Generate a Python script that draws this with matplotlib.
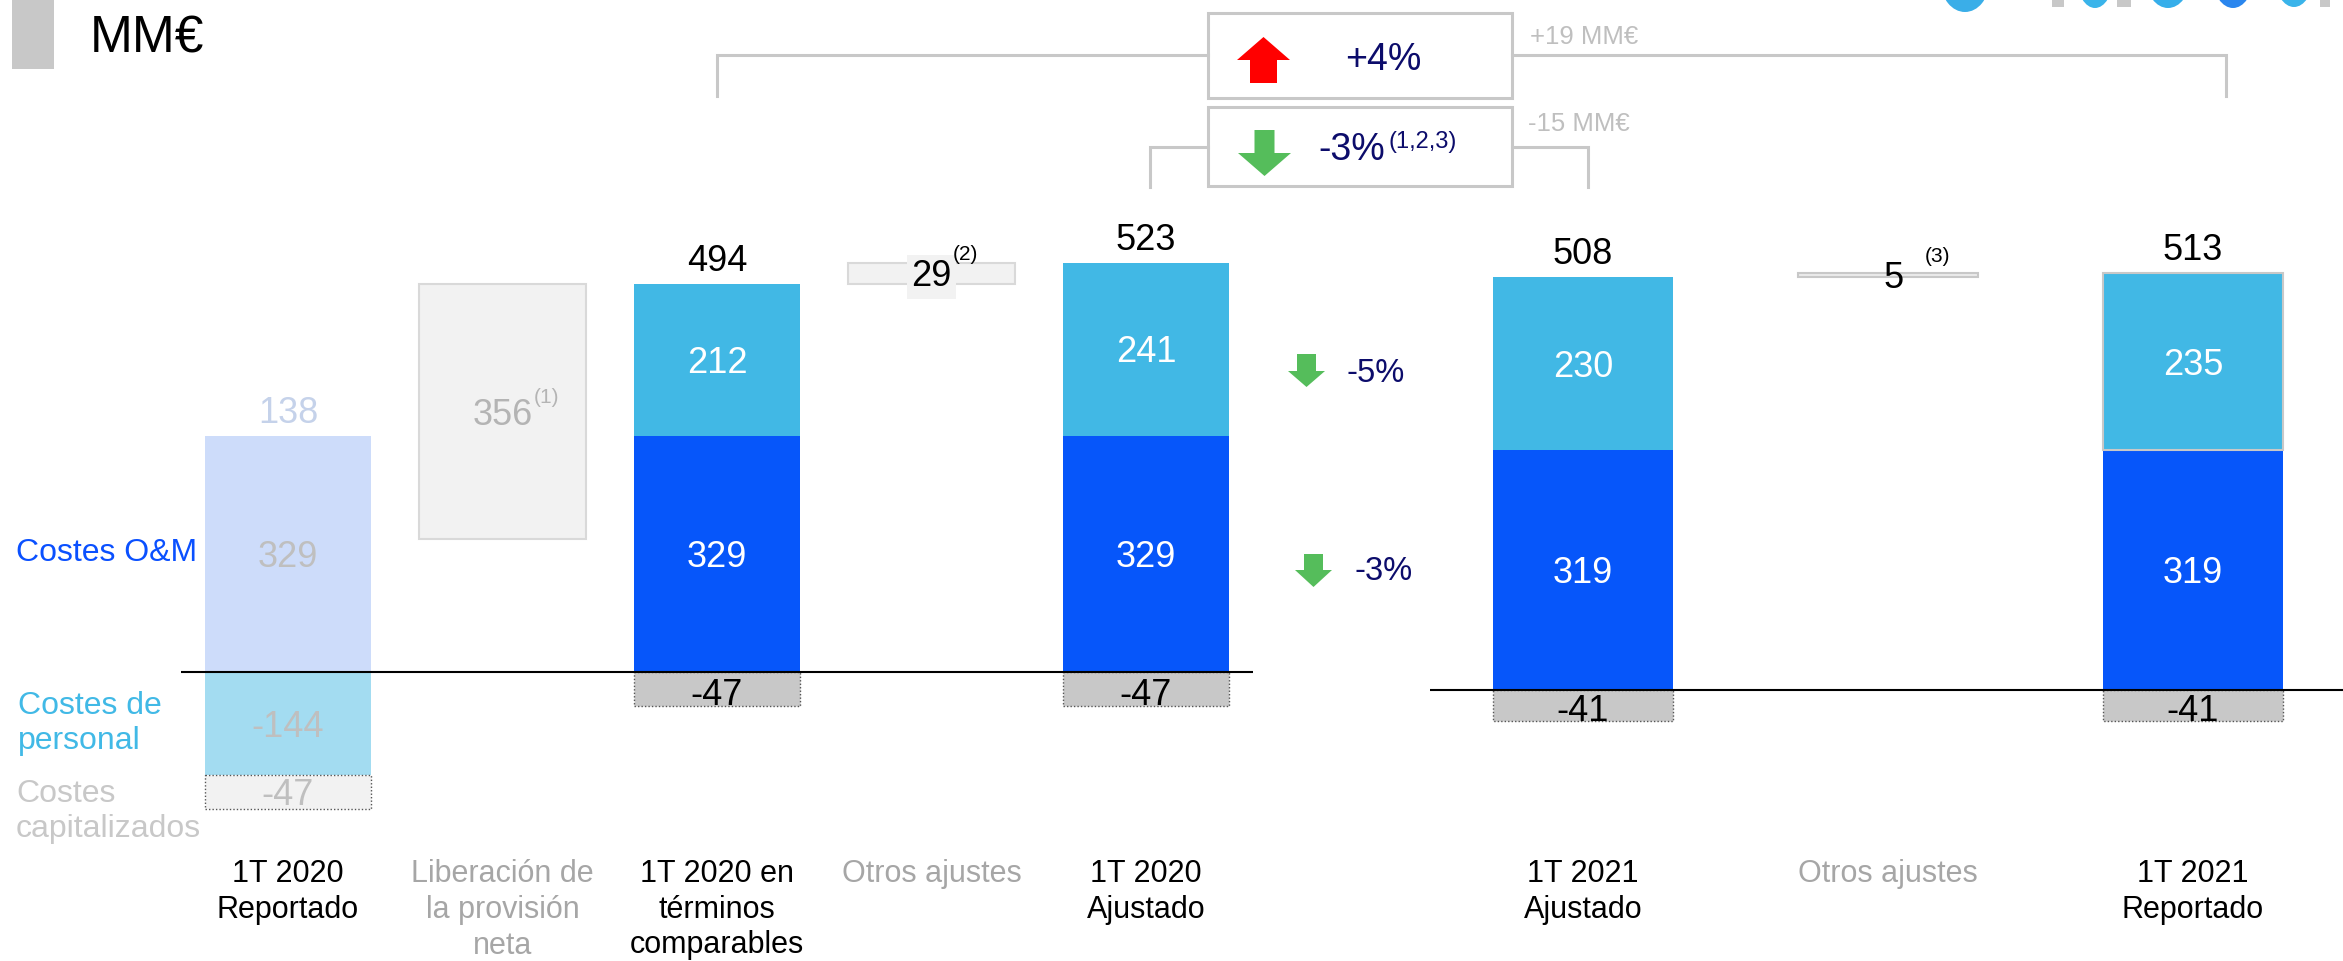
import numpy as np
import matplotlib
matplotlib.use('Agg')
import matplotlib.pyplot as plt
import matplotlib.transforms as mtransforms
from matplotlib.patches import Polygon, Rectangle, Ellipse

plt.rcParams['font.family'] = ['Liberation Sans', 'DejaVu Sans']

W, H = 2343, 961

# ---- data (MM€) ----
labels_2020 = ["1T 2020\nReportado", "Liberación de\nla provisión\nneta",
               "1T 2020 en\ntérminos\ncomparables", "Otros ajustes", "1T 2020\nAjustado"]
labels_2021 = ["1T 2021\nAjustado", "Otros ajustes", "1T 2021\nReportado"]
label_colors_2020 = ["black", "#a6a6a6", "black", "#a6a6a6", "black"]
label_colors_2021 = ["black", "#a6a6a6", "black"]

rep2020_parts = [329, -144, -47]      # O&M, personal, capitalizados
rep2020_total = 138
provision = 356
other_adj = [29, 5]
om = [329, 329, 319, 319]             # comparables 2020, ajustado 2020, ajustado 2021, reportado 2021
personal = [212, 241, 230, 235]
capitalized = [-47, -47, -41, -41]
totals = [494, 523, 508, 513]
var_pct = ["+4%", "-3%"]
var_amount = ["+19 MM€", "-15 MM€"]
item_change = ["-5%", "-3%"]

DARK = "#0656fa"
LIGHT = "#41b8e5"
GREY = "#c8c8c8"
PALE = "#f2f2f2"
NAVY = "#0c0c6b"
GREEN = "#55bd5b"
DOTTED = dict(edgecolor="#555555", linestyle=(0, (1, 1.5)), linewidth=1)


def ctext(ax, x, y, s, size, color, dx=0, dy=0, ha="center", xycoords="data", **kw):
    # middle of the digits at (x, y), shifted dx/dy pixels (dy up)
    return ax.annotate(s, (x, y), xycoords=xycoords,
                       xytext=(dx * 0.72, dy * 0.72 - 0.358 * size),
                       textcoords="offset points", ha=ha, va="baseline",
                       fontsize=size, color=color, **kw)


def arrow(ax, cx, top, bottom, head_w, shaft_w, head_len, up, color):
    if up:
        hb = top + head_len
        pts = [(cx - shaft_w / 2, bottom), (cx + shaft_w / 2, bottom), (cx + shaft_w / 2, hb),
               (cx + head_w / 2, hb), (cx, top), (cx - head_w / 2, hb), (cx - shaft_w / 2, hb)]
    else:
        hb = bottom - head_len
        pts = [(cx - shaft_w / 2, top), (cx + shaft_w / 2, top), (cx + shaft_w / 2, hb),
               (cx + head_w / 2, hb), (cx, bottom), (cx - head_w / 2, hb), (cx - shaft_w / 2, hb)]
    ax.add_patch(Polygon(pts, closed=True, color=color, lw=0))


fig = plt.figure(figsize=(W / 100, H / 100), dpi=100)

ax_l = fig.add_axes([180.75 / W, 0, 1072.5 / W, 1])
ax_l.set_xlim(-0.5, 4.5)
ax_l.set_ylim(-(H - 672) * 1.394, 672 * 1.394)
ax_r = fig.add_axes([1430.5 / W, 0, 915 / W, 1])
ax_r.set_xlim(-0.5, 2.5)
ax_r.set_ylim(-(H - 690) * 1.33, 690 * 1.33)
ax_o = fig.add_axes([0, 0, 1, 1])
ax_o.set_xlim(0, W)
ax_o.set_ylim(H, 0)
for ax in (ax_l, ax_r, ax_o):
    ax.axis('off')

wl, wr = 0.774, 0.593

# ---- 1T 2020 reportado (faded) ----
ax_l.bar(0, rep2020_parts[0], wl, color="#cddcfa")
ax_l.bar(0, rep2020_parts[1], wl, color="#a3dcf1")
ax_l.bar(0, rep2020_parts[2], wl, bottom=rep2020_parts[1], color=PALE, **DOTTED)
ctext(ax_l, 0, rep2020_parts[0] / 2, str(rep2020_parts[0]), 26, "#bfbfbf")
ctext(ax_l, 0, rep2020_parts[1] / 2, str(rep2020_parts[1]), 26, "#bfbfbf")
ctext(ax_l, 0, rep2020_parts[1] + rep2020_parts[2] / 2, str(rep2020_parts[2]), 26, "#bfbfbf")
ctext(ax_l, 0, rep2020_parts[0], str(rep2020_total), 26, "#c5d2ea", dy=26)

# ---- liberación de la provisión ----
gross_cmp = om[0] + personal[0]
ax_l.bar(1, provision, wl, bottom=gross_cmp - provision, color=PALE, edgecolor="#d9d9d9", lw=1.5)
ctext(ax_l, 1, gross_cmp - provision / 2, str(provision), 26, "#b4b4b4")
ctext(ax_l, 1, gross_cmp - provision / 2, "(1)", 15, "#b4b4b4", dx=31, dy=16, ha="left")

# ---- comparables / ajustado 2020 ----
for i, xi in zip([0, 1], [2, 4]):
    ax_l.bar(xi, om[i], wl, color=DARK)
    ax_l.bar(xi, personal[i], wl, bottom=om[i], color=LIGHT)
    ax_l.bar(xi, capitalized[i], wl, color=GREY, **DOTTED)
    ctext(ax_l, xi, om[i] / 2, str(om[i]), 26, "white")
    ctext(ax_l, xi, om[i] + personal[i] / 2, str(personal[i]), 26, "white")
    ctext(ax_l, xi, capitalized[i] / 2, str(capitalized[i]), 26, "black", dy=-3)
    ctext(ax_l, xi, om[i] + personal[i], str(totals[i]), 26, "black", dy=26)

# ---- otros ajustes 2020 ----
ax_l.bar(3, other_adj[0], wl, bottom=gross_cmp, color=PALE, edgecolor="#d9d9d9", lw=1.5)
ctext(ax_l, 3, gross_cmp + other_adj[0] / 2, str(other_adj[0]), 26, "black", dy=0,
      bbox=dict(boxstyle="square,pad=0.12", fc=PALE, ec="none"))
ctext(ax_l, 3, gross_cmp + other_adj[0] / 2, "(2)", 15, "black", dx=21, dy=21, ha="left")

ax_l.axhline(0, color="black", lw=1.5, zorder=3)

# ---- 2021 ----
for i, xi in zip([2, 3], [0, 2]):
    ax_r.bar(xi, om[i], wr, color=DARK)
    ec = GREY if xi == 2 else "none"
    ax_r.bar(xi, personal[i], wr, bottom=om[i], color=LIGHT, edgecolor=ec, lw=1.5)
    ax_r.bar(xi, capitalized[i], wr, color=GREY, **DOTTED)
    ctext(ax_r, xi, om[i] / 2, str(om[i]), 26, "white")
    ctext(ax_r, xi, om[i] + personal[i] / 2, str(personal[i]), 26, "white")
    ctext(ax_r, xi, capitalized[i] / 2, str(capitalized[i]), 26, "black", dy=-3)
    ctext(ax_r, xi, om[i] + personal[i], str(totals[i]), 26, "black", dy=26)

gross_adj21 = om[2] + personal[2]
ax_r.bar(1, other_adj[1], wr, bottom=gross_adj21, color="#ebebeb", edgecolor=GREY, lw=1.5)
ctext(ax_r, 1, gross_adj21 + other_adj[1] / 2, str(other_adj[1]), 26, "black", dx=6, dy=0)
ctext(ax_r, 1, gross_adj21 + other_adj[1] / 2, "(3)", 15, "black", dx=37, dy=21, ha="left")

ax_r.axhline(0, color="black", lw=1.5, zorder=3)

# ---- category labels ----
for ax, labs, cols in ((ax_l, labels_2020, label_colors_2020), (ax_r, labels_2021, label_colors_2021)):
    tr = mtransforms.blended_transform_factory(ax.transData, ax.transAxes)
    for xi, (lab, c) in enumerate(zip(labs, cols)):
        ax.text(xi, 1 - 859 / H, lab, transform=tr, ha="center", va="top",
                fontsize=22, color=c, linespacing=1.25)

# ---- series labels on the left ----
tr_left = mtransforms.blended_transform_factory(ax_o.transData, ax_l.transData)
ctext(ax_l, 16, rep2020_parts[0] / 2, "Costes O&M", 23, "#0a50ff", ha="left", xycoords=tr_left, dy=4)
ax_l.annotate("Costes de\npersonal", (18, rep2020_parts[1] / 2), xycoords=tr_left,
              ha="left", va="center", fontsize=23, color="#41b9e6", linespacing=1.2)
ax_l.annotate("Costes\ncapitalizados", (16, rep2020_parts[1]), xycoords=tr_left,
              xytext=(0, -3), textcoords="offset points",
              ha="left", va="top", fontsize=23, color=GREY, linespacing=1.2)

# ---- variation boxes and brackets ----
ax_o.plot([717, 717, 1208], [96, 55, 55], color=GREY, lw=2.2, solid_joinstyle="miter")
ax_o.plot([1512, 2226, 2226], [55, 55, 96], color=GREY, lw=2.2, solid_joinstyle="miter")
ax_o.plot([1150, 1150, 1208], [187, 147, 147], color=GREY, lw=2.2, solid_joinstyle="miter")
ax_o.plot([1512, 1588, 1588], [147, 147, 187], color=GREY, lw=2.2, solid_joinstyle="miter")
ax_o.add_patch(Rectangle((1208, 13), 304, 85, fc="white", ec=GREY, lw=2.2))
ax_o.add_patch(Rectangle((1208, 107), 304, 79, fc="white", ec=GREY, lw=2.2))
arrow(ax_o, 1263.5, 37, 83, 53, 27, 23, True, "#ff0000")
arrow(ax_o, 1264.5, 130, 176, 53, 20, 23, False, GREEN)
ctext(ax_o, 1383, 57, var_pct[0], 27, NAVY)
ctext(ax_o, 1318, 147, var_pct[1], 27, NAVY, ha="left")
ctext(ax_o, 1388, 140, "(1,2,3)", 17, NAVY, ha="left")
ctext(ax_o, 1530, 35, var_amount[0], 18.5, "#bfbfbf", ha="left")
ctext(ax_o, 1528, 122, var_amount[1], 18.5, "#bfbfbf", ha="left")

# ---- item changes ----
arrow(ax_o, 1306.5, 354, 387, 37, 19, 16, False, GREEN)
arrow(ax_o, 1313.5, 554, 587, 37, 19, 17, False, GREEN)
ctext(ax_o, 1347, 370, item_change[0], 23.5, NAVY, ha="left")
ctext(ax_o, 1355, 568, item_change[1], 23.5, NAVY, ha="left")

# ---- header ----
ax_o.add_patch(Rectangle((12, 0), 42, 69, color=GREY, lw=0))
ctext(ax_o, 90, 34, "MM€", 37, "black", ha="left")

# logo fragments at the top right edge
for cx, w, b, c in [(1965, 48, 12, "#3aaee8"), (2095, 36, 8, "#3ab4ea"), (2168, 44, 8, "#36aeea"),
                    (2233, 40, 8, "#2a86ee"), (2294, 38, 7, "#3ab4ea")]:
    ax_o.add_patch(Ellipse((cx, b - 30), w, 60, color=c, lw=0))
for x0, w in [(2052, 12), (2117, 14), (2320, 10)]:
    ax_o.add_patch(Rectangle((x0, 0), w, 7, color=GREY, lw=0))

fig.savefig("out.png", dpi=100)
plt.close()
